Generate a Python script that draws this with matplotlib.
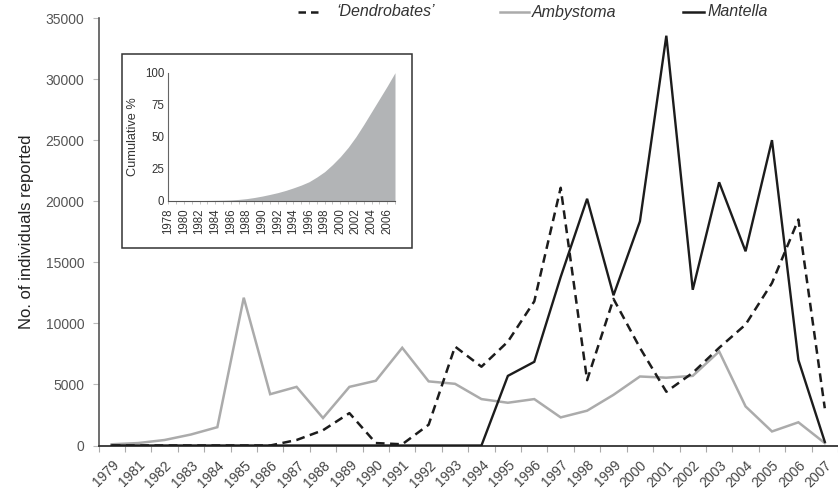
import numpy as np
import matplotlib
matplotlib.use("Agg")
import matplotlib.pyplot as plt
from matplotlib.patches import Rectangle
from matplotlib.lines import Line2D

plt.rcParams['font.family'] = ['Liberation Sans', 'DejaVu Sans']

# ---------------- data ----------------
years = ['1979', '1981', '1982', '1983', '1984', '1985', '1986', '1987', '1988',
         '1989', '1990', '1991', '1992', '1993', '1994', '1995', '1996', '1997',
         '1998', '1999', '2000', '2001', '2002', '2003', '2004', '2005', '2006',
         '2007']
dendrobates = [0, 0, 0, 0, 0, 0, 0, 450, 1250, 2650, 200, 100, 1700, 8100,
               6450, 8500, 11800, 21100, 5350, 12000, 8000, 4400, 5950, 8000,
               9900, 13300, 18500, 3050]
ambystoma = [100, 200, 450, 900, 1500, 12100, 4200, 4800, 2250, 4800, 5300,
             8000, 5250, 5050, 3800, 3500, 3800, 2300, 2850, 4150, 5650, 5550,
             5700, 7700, 3200, 1150, 1900, 200]
mantella = [0, 0, 0, 0, 0, 0, 0, 0, 0, 0, 0, 0, 0, 0, 0, 5700, 6850, 13800,
            20200, 12300, 18350, 33550, 12750, 21550, 15900, 25000, 7000, 300]
series_names = ['\u2018Dendrobates\u2019', 'Ambystoma', 'Mantella']
y_ticks = [0, 5000, 10000, 15000, 20000, 25000, 30000, 35000]

cum_years = list(range(1978, 2008))
cum_pct = [0, 0, 0, 0.1, 0.1, 0.2, 0.3, 0.4, 0.6, 1.0, 1.6, 2.5, 3.6, 4.9, 6.3,
           8.0, 10.0, 12.2, 14.8, 18.5, 22.7, 28.2, 34.4, 41.6, 50.0, 59.5,
           69.5, 79.5, 89.5, 100.0]
cum_ticks = list(range(1978, 2007, 2))
cum_yticks = [0, 25, 50, 75, 100]

# ---------------- figure ----------------
W, H = 838, 492
fig = plt.figure(figsize=(W / 100, H / 100), dpi=100)

def fx(px):
    return px / W

def fy(py):
    return (H - py) / H

ax = fig.add_axes([fx(98.5), fy(445.5), fx(838) - fx(98.5), fy(18) - fy(445.5)])
x = np.arange(len(years))

DARK = '#1c1c1c'
GREY = '#ababab'
DASH = (3.5, 2.2)

ax.plot(x, ambystoma, color=GREY, lw=1.8, solid_joinstyle='miter', zorder=2)
ax.plot(x, mantella, color=DARK, lw=1.7, solid_joinstyle='miter', zorder=3)
ax.plot(x, dendrobates, color=DARK, lw=1.8, dashes=DASH, zorder=4)

ax.set_xlim(-0.5, 27.2)
ax.set_ylim(0, 35000)

ax.set_xticks(x)
ax.set_xticklabels(years, rotation=45, ha='right', rotation_mode='anchor',
                   fontsize=10, color='#444444')
ax.set_xticks(np.arange(-0.5, len(years), 1.0), minor=True)
ax.tick_params(axis='x', which='major', length=0, pad=9)
ax.tick_params(axis='x', which='minor', length=4, color='#aaaaaa', width=0.8)

ax.set_yticks(y_ticks)
ax.set_yticklabels([str(v) for v in y_ticks], fontsize=10, color='#555555')
ax.tick_params(axis='y', length=4, color='#bbbbbb', width=0.8, pad=6)

for s in ['top', 'right']:
    ax.spines[s].set_visible(False)
ax.spines['left'].set_color('#555555')
ax.spines['left'].set_linewidth(1.2)
ax.spines['bottom'].set_color('#333333')
ax.spines['bottom'].set_linewidth(1.3)

ax.set_ylabel('No. of individuals reported', fontsize=12, color='#222222')
ax.yaxis.set_label_coords((34 - 98.5) / (838 - 98.5), 0.5)

# legend (manual, in figure pixels)
leg_y = fy(12)
leg_items = [
    (series_names[0], DARK, DASH, 298, 322, 336),
    (series_names[1], GREY, None, 500, 529, 532),
    (series_names[2], DARK, None, 683, 704, 707),
]
for name, col, dash, x0, x1, xt in leg_items:
    ln = Line2D([fx(x0), fx(x1)], [leg_y, leg_y], transform=fig.transFigure,
                color=col, lw=1.8)
    if dash is not None:
        ln.set_dashes((3.0, 2.0))
    fig.lines.append(ln)
    fig.text(fx(xt), leg_y, name, style='italic', fontsize=11.5,
             color='#333333', ha='left', va='center')

# inset frame
box = Rectangle((fx(121.7), fy(248)), fx(411.7) - fx(121.7), fy(54) - fy(248),
                transform=fig.transFigure, facecolor='white',
                edgecolor='#333333', lw=1.1, zorder=5)
fig.patches.append(box)

ins = fig.add_axes([fx(168.3), fy(200.7), fx(395) - fx(168.3), fy(72.7) - fy(200.7)])
ins.set_zorder(6)
ins.patch.set_alpha(0)
ins.fill_between(cum_years, cum_pct, 0, color='#b2b4b6', lw=0)
ins.set_xlim(1978, 2007)
ins.set_ylim(0, 100)
ins.set_xticks(cum_ticks)
ins.set_xticklabels([str(v) for v in cum_ticks], rotation=90, fontsize=8.3,
                    color='#333333')
ins.set_xticks(cum_years, minor=True)
ins.tick_params(axis='x', which='both', length=2.5, color='#bbbbbb', width=0.6, pad=3)
ins.set_yticks(cum_yticks)
ins.set_yticklabels([str(v) for v in cum_yticks], fontsize=8.3, color='#333333')
ins.tick_params(axis='y', length=0, pad=3)
for s in ['top', 'right']:
    ins.spines[s].set_visible(False)
ins.spines['left'].set_color('#666666')
ins.spines['bottom'].set_color('#555555')
ins.set_ylabel('Cumulative %', fontsize=9.2, color='#333333', labelpad=4)

fig.savefig('out.png', dpi=100)
